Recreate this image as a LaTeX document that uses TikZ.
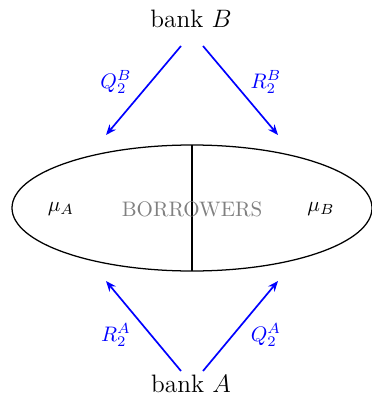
\documentclass[tikz,border=0pt]{standalone}
\usetikzlibrary{arrows.meta,positioning}

\begin{document}
\begin{tikzpicture}[x=0.476pt,y=-0.476pt,
		flow/.style={draw=blue,thick,-{Stealth[length=5pt,width=4pt]}},
		lbl/.style={color=blue},
		bank/.style={font=\large}]
		\useasboundingbox (0,0) rectangle (371,401);
		
		% banks
		\node[bank] (bankB) at (191,19) {bank $B$};
		\node[bank] (bankA) at (191,384) {bank $A$};
		
		% borrowers
		\draw[semithick] (192,208) ellipse [x radius=180, y radius=63];
		\coordinate (top) at (192,145);
		\coordinate (bot) at (192,271);
		\draw[semithick] (top) -- (bot);
		\node[gray] (borr) at (192,209) {BORROWERS};
		\node (muA) at (61,209) {$\mu_A$};
		\node (muB) at (321,209) {$\mu_B$};
		
		% arrow ends
		\coordinate (bl) at (181,46);
		\coordinate (br) at (203,46);
		\coordinate (el) at (106,135);
		\coordinate (er) at (278,135);
		\coordinate (al) at (181,371);
		\coordinate (ar) at (203,371);
		\coordinate (fl) at (106,281);
		\coordinate (fr) at (278,281);
		
		\draw[flow] (bl) -- (el);
		\draw[flow] (br) -- (er);
		\draw[flow] (al) -- (fl);
		\draw[flow] (ar) -- (fr);
		
		% labels
		\node[lbl] (QB) at (116,82) {$Q_2^B$};
		\node[lbl] (RB) at (266,82) {$R_2^B$};
		\node[lbl] (RA) at (116,335) {$R_2^A$};
		\node[lbl] (QA) at (266,335) {$Q_2^A$};
		
\end{tikzpicture}
\end{document}
